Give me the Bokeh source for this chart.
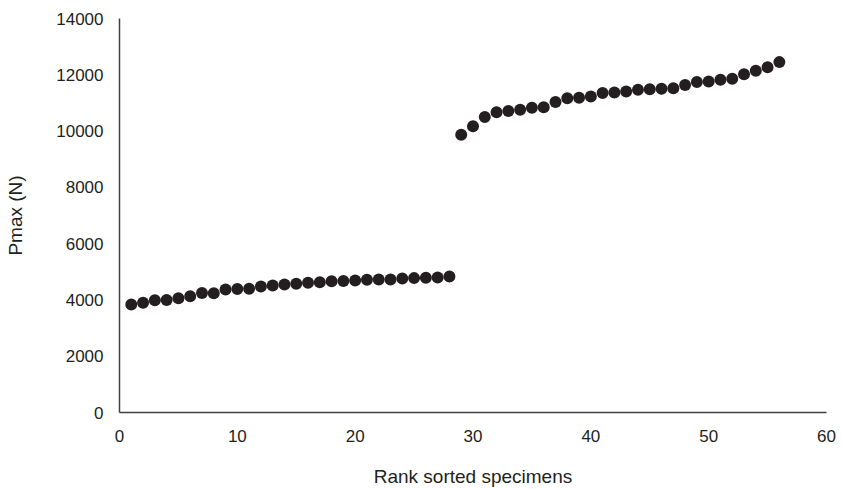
from bokeh.plotting import figure
from bokeh.models import Range1d, FixedTicker
from bokeh.embed import file_html
from bokeh.resources import INLINE

# Data
rank = list(range(1, 57))
pmax_low = [3840, 3900, 3990, 4000, 4060, 4130, 4250, 4240, 4370, 4390,
            4400, 4480, 4510, 4550, 4575, 4610, 4630, 4665, 4670, 4690,
            4715, 4725, 4730, 4760, 4775, 4785, 4800, 4830]
pmax_high = [9870, 10170, 10500, 10670, 10710, 10760, 10830, 10850, 11030, 11170,
             11180, 11230, 11350, 11370, 11410, 11470, 11490, 11500, 11520, 11640,
             11740, 11760, 11820, 11860, 12020, 12140, 12270, 12450]
pmax = pmax_low + pmax_high

x_ticks = [0, 10, 20, 30, 40, 50, 60]
y_ticks = [0, 2000, 4000, 6000, 8000, 10000, 12000, 14000]

FONT = "Liberation Sans"
TEXT = "#231f20"
AXIS = "#404040"

p = figure(width=842, height=489, output_backend="svg", toolbar_location=None,
           x_range=Range1d(0, 60), y_range=Range1d(0, 14000),
           min_border_left=119, min_border_right=16, min_border_top=18,
           min_border_bottom=77)
p.outline_line_color = None
p.xgrid.grid_line_color = None
p.ygrid.grid_line_color = None

p.scatter(rank, pmax, size=12, color="#231f20", line_color=None)

for ax in (p.xaxis[0], p.yaxis[0]):
    ax.axis_line_color = AXIS
    ax.axis_line_width = 1.5
    ax.major_tick_line_color = None
    ax.minor_tick_line_color = None
    ax.major_tick_out = 0
    ax.major_tick_in = 0
    ax.major_label_text_font = FONT
    ax.major_label_text_font_size = "17px"
    ax.major_label_text_color = TEXT
    ax.axis_label_text_font = FONT
    ax.axis_label_text_font_size = "19px"
    ax.axis_label_text_font_style = "normal"
    ax.axis_label_text_color = TEXT

p.xaxis.ticker = FixedTicker(ticks=x_ticks)
p.yaxis.ticker = FixedTicker(ticks=y_ticks)
p.xaxis.axis_label = "Rank sorted specimens"
p.yaxis.axis_label = "Pmax (N)"
p.xaxis.major_label_standoff = 17
p.xaxis.axis_label_standoff = 21
p.yaxis.major_label_standoff = 16
p.yaxis.axis_label_standoff = 27

open("out.html", "w").write(file_html(p, INLINE))
